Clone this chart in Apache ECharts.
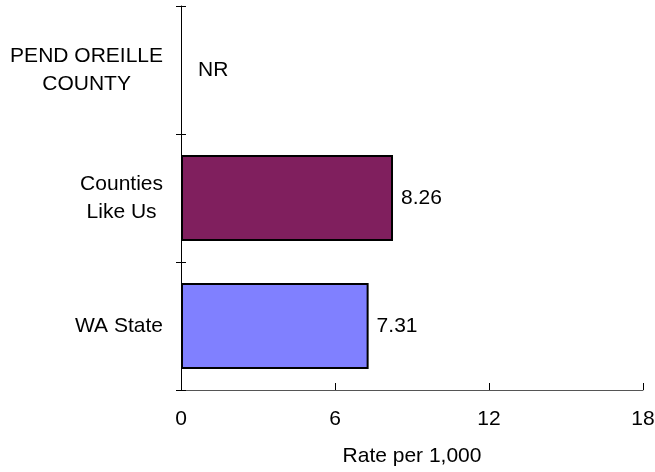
<!DOCTYPE html>
<html lang="en">
<head>
    <meta charset="UTF-8">
    <title>Rate per 1,000</title>
    <script src="https://cdn.jsdelivr.net/npm/echarts@6/dist/echarts.min.js"></script>
    <style>
        html, body { margin: 0; padding: 0; background: #fff; }
        #chart { width: 655px; height: 472px; }
    </style>
</head>
<body>
<div id="chart"></div>
<script>
    // categories top to bottom
    var categories = ['PEND OREILLE\nCOUNTY', 'Counties\nLike Us', 'WA State'];
    // null = not reported (NR)
    var rates = [null, 8.26, 7.31];
    var xTicks = [0, 6, 12, 18];

    var barColors = ['#ffffff', '#801F5E', '#8080FF'];
    var fontFam = '"Liberation Sans", Arial, sans-serif';

    var chart = echarts.init(document.getElementById('chart'));

    var barData = [];
    for (var i = 0; i < rates.length; i++) {
        if (rates[i] === null) {
            barData.push({
                value: 0,
                itemStyle: { color: 'transparent', borderWidth: 0 },
                label: { formatter: 'NR', distance: 17 }
            });
        } else {
            barData.push({
                value: rates[i],
                itemStyle: { color: barColors[i] }
            });
        }
    }

    var option = {
        animation: false,
        grid: { left: 181, right: 12, top: 6, bottom: 82, outerBoundsMode: 'none', containLabel: false },
        xAxis: {
            type: 'value',
            min: xTicks[0],
            max: xTicks[xTicks.length - 1],
            interval: xTicks[1] - xTicks[0],
            name: 'Rate per 1,000',
            nameLocation: 'middle',
            nameGap: 56,
            nameTextStyle: { fontSize: 21, color: '#000', fontFamily: fontFam },
            axisLine: { show: true, lineStyle: { color: '#555', width: 1 } },
            axisTick: { show: true, inside: true, length: 7, lineStyle: { color: '#000' } },
            axisLabel: { fontSize: 21, color: '#000', fontFamily: fontFam, margin: 19 },
            splitLine: { show: false }
        },
        yAxis: [{
            type: 'category',
            data: categories,
            inverse: true,
            axisLine: { show: true, lineStyle: { color: '#000', width: 1 } },
            axisTick: { show: true, length: 5, lineStyle: { color: '#000' } },
            axisLabel: {
                margin: 18,
                formatter: function (v) {
                    return v.split('\n').map(function (s) { return '{a|' + s + '}'; }).join('\n');
                },
                rich: {
                    a: { fontSize: 21, lineHeight: 28, color: '#000', fontFamily: fontFam, align: 'center' }
                }
            }
        }, {
            // second copy only for the inner half of the ticks
            type: 'category',
            data: categories,
            inverse: true,
            position: 'left',
            offset: 0,
            axisLine: { show: false },
            axisTick: { show: true, inside: true, length: 5, lineStyle: { color: '#000' } },
            axisLabel: { show: false }
        }],
        series: [{
            type: 'bar',
            data: barData,
            barWidth: 86,
            itemStyle: { borderColor: '#000', borderWidth: 2 },
            label: {
                show: true,
                position: 'right',
                distance: 8,
                fontSize: 21,
                color: '#000',
                fontFamily: fontFam
            }
        }]
    };

    chart.setOption(option);
</script>
</body>
</html>
